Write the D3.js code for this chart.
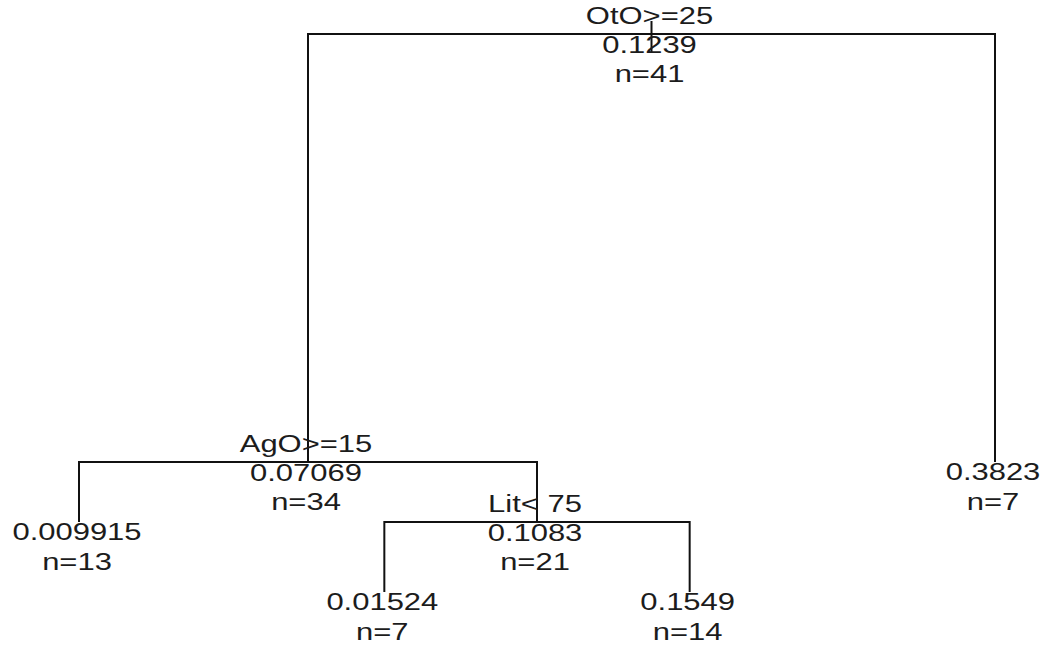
<!DOCTYPE html>
<html>
<head>
<meta charset="utf-8">
<script src="https://cdn.jsdelivr.net/npm/d3@7"></script>
<style>
  html, body { margin: 0; padding: 0; background: #fff; }
  svg { display: block; }
  text { font-family: "Liberation Sans", Arial, sans-serif; fill: #1c1c1c; }
</style>
</head>
<body>
<svg id="chart" width="1049" height="645"></svg>
<script>
// rpart tree: node ids (rpart numbering), parent, split text, fitted value, n, relative height
const nodeIds     = [1, 2, 3, 4, 5, 10, 11];
const parentIds   = [null, 1, 1, 2, 2, 5, 5];
const splitLabels = ["OtO>=25", "AgO>=15", "", "", "Lit< 75", "", ""];
const nodeValues  = ["0.1239", "0.07069", "0.3823", "0.009915", "0.1083", "0.01524", "0.1549"];
const nodeCounts  = [41, 34, 7, 13, 21, 7, 14];
const nodeHeights = [1.0, 0.233, 0.233, 0.1255, 0.1255, 0.0, 0.0];
const leafOrder   = [4, 10, 11, 3];

const W = 1049, H = 645;
const svg = d3.select("#chart");

const nodes = nodeIds.map((id, i) => ({
  id, parent: parentIds[i], split: splitLabels[i], value: nodeValues[i],
  n: nodeCounts[i], h: nodeHeights[i]
}));
const byId = new Map(nodes.map(d => [d.id, d]));

const x = d3.scaleLinear().domain([0, leafOrder.length - 1]).range([79, 995]);
const y = d3.scaleLinear().domain([0, 1]).range([592, 34]);

// x positions: leaves by order, internal nodes as midpoints of children
function setX(d) {
  const kids = nodes.filter(c => c.parent === d.id);
  if (kids.length === 0) { d.x = x(leafOrder.indexOf(d.id)); }
  else { kids.forEach(setX); d.x = d3.mean(kids, k => k.x); }
  d.leaf = kids.length === 0;
}
setX(byId.get(1));
nodes.forEach(d => d.y = y(d.h));

const g = svg.append("g");

// branches
nodes.filter(d => d.parent !== null).forEach(d => {
  const p = byId.get(d.parent);
  g.append("path")
    .attr("d", `M${d.x},${d.y}V${p.y}H${p.x}`)
    .attr("fill", "none").attr("stroke", "#111").attr("stroke-width", 2);
});
// root stub
const root = byId.get(1);
g.append("line")
  .attr("x1", root.x).attr("x2", root.x)
  .attr("y1", root.y - 13).attr("y2", root.y + 19)
  .attr("stroke", "#111").attr("stroke-width", 2);

const fs = 24, sx = 1.29, dx = -2;
function label(txt, cx, cy) {
  g.append("text")
    .attr("transform", `translate(${cx + dx},${cy}) scale(${sx},1)`)
    .attr("text-anchor", "middle")
    .attr("dominant-baseline", "central")
    .style("font-size", fs + "px")
    .text(txt);
}
nodes.forEach(d => {
  if (d.split) label(d.split, d.x, d.y - 18);
  label(d.value, d.x, d.y + (d.leaf ? 10 : 11));
  label("n=" + d.n, d.x, d.y + 39.5);
});
</script>
</body>
</html>
